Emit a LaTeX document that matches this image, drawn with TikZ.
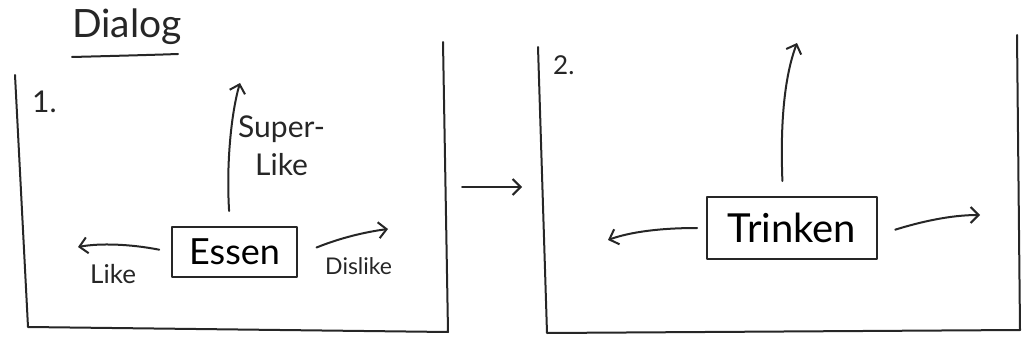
\documentclass[tikz,border=0pt]{standalone}
\usepackage{fontspec}
\setmainfont{Lato}
\usetikzlibrary{arrows.meta}
\begin{document}
\begin{tikzpicture}[x=1pt,y=-1pt,line cap=round,line join=round,
  ink/.style={line width=2pt,draw=black!85},
  arr/.style={ink,-{Straight Barb[length=8pt,width=16pt,line width=2pt]}},
  box/.style={draw=black!85,line width=2pt,inner sep=0pt},
  hand/.style={inner sep=0pt,text=black!85}]
\useasboundingbox (0,0) rectangle (1022,342);
% title
\node[hand,anchor=base west] (title) at (72,38) {\fontsize{39}{44}\selectfont Dialog};
\draw[ink] (72,57) .. controls (110,56) and (150,55) .. (178,54);
% frames
\draw[ink] (15,75) -- (28,327) -- (448,332) -- (443,42);
\draw[ink] (538,47) -- (547,333) -- (1020,330) -- (1017,35);
\node[hand,anchor=base west] (one) at (32,113) {\fontsize{30}{34}\selectfont 1.};
\node[hand,anchor=base west] (two) at (553,75) {\fontsize{26}{30}\selectfont 2.};
% panel 1
\node[box,minimum width=125pt,minimum height=50pt] (essen) at (234.5,252) {\fontsize{36}{40}\selectfont Essen};
\coordinate (superE) at (240,83);
\coordinate (likeE) at (78,247);
\coordinate (dislikeE) at (388,229);
\draw[arr,shorten <=15pt] ([xshift=-4.5pt]essen.north) .. controls (226,160) and (232,110) .. (superE);
\draw[arr,shorten <=12pt] (essen.west) .. controls (130,244) and (100,243) .. (likeE);
\draw[arr,shorten <=20pt] ([yshift=-3pt]essen.east) .. controls (340,238) and (365,232) .. (dislikeE);
\node[hand,anchor=base west] (superA) at (238,138) {\fontsize{30}{34}\selectfont Super-};
\node[hand,anchor=base west] (superB) at (255,175) {\fontsize{30}{34}\selectfont Like};
\node[hand,anchor=base west] (likeL) at (90,283) {\fontsize{26}{30}\selectfont Like};
\node[hand,anchor=base west] (dislikeL) at (325,274) {\fontsize{23}{27}\selectfont Dislike};
% middle arrow
\coordinate (midS) at (462,187);
\coordinate (midE) at (522,187);
\draw[arr] (midS) -- (midE);
% panel 2
\node[box,minimum width=170pt,minimum height=62pt] (trinken) at (792,228) {\fontsize{40}{44}\selectfont Trinken};
\coordinate (upE) at (797,43);
\coordinate (leftE) at (608,240);
\coordinate (rightE) at (980,215);
\draw[arr,shorten <=15pt] ([xshift=-9pt]trinken.north) .. controls (780,120) and (785,75) .. (upE);
\draw[arr,shorten <=9pt] (trinken.west) .. controls (660,228) and (630,232) .. (leftE);
\draw[arr,shorten <=18pt] ([yshift=-7pt]trinken.east) .. controls (920,222) and (950,215) .. (rightE);
\end{tikzpicture}
\end{document}
